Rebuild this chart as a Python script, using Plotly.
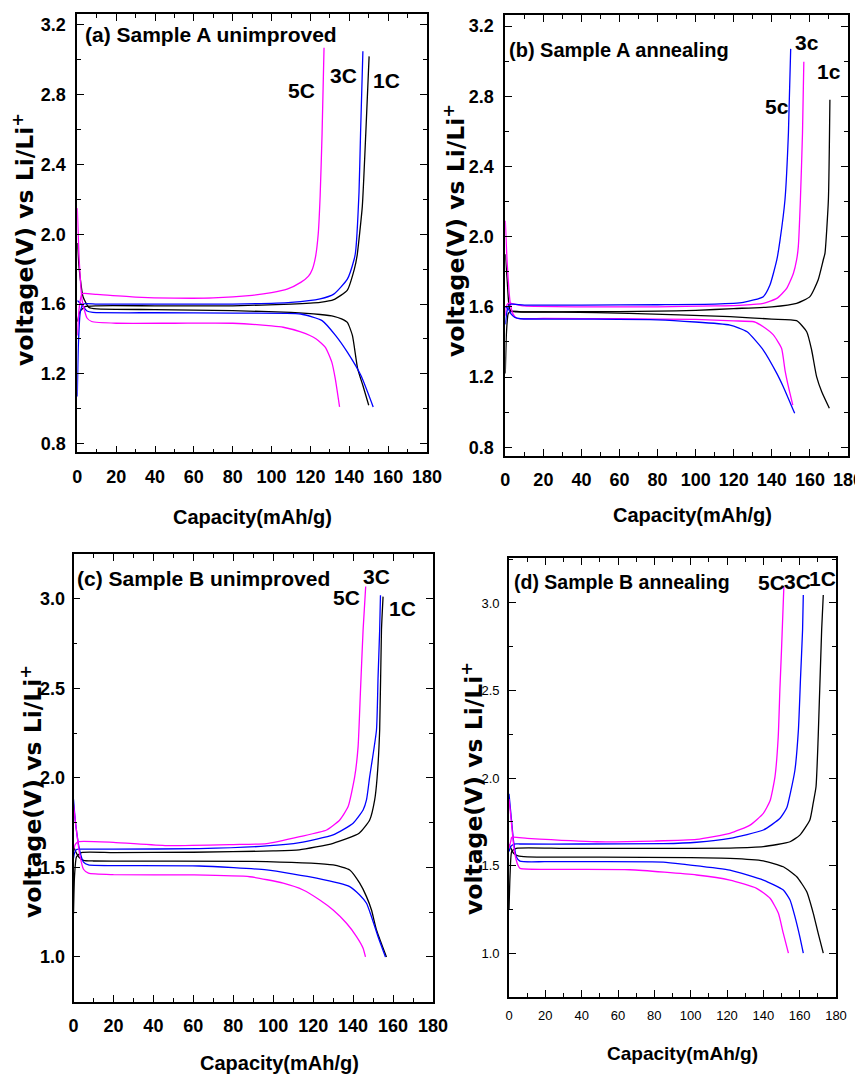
import plotly.graph_objects as go

# ---------------- data (capacity mAh/g, voltage V) ----------------
# (a) Sample A unimproved
a_1C_chg_cap = [0, 1.5, 4, 10, 40, 80, 110, 125, 132, 139, 142.6, 144, 146.7, 148.5, 150.2]
a_1C_chg_v = [1.50, 1.56, 1.585, 1.59, 1.59, 1.59, 1.60, 1.61, 1.625, 1.68, 1.80, 1.876, 2.16, 2.58, 3.02]
a_1C_dis_cap = [0, 1, 3, 6, 10, 40, 80, 110, 125, 132, 136, 139, 141.6, 144.3, 147, 150]
a_1C_dis_v = [1.95, 1.80, 1.64, 1.58, 1.572, 1.568, 1.562, 1.552, 1.54, 1.53, 1.515, 1.495, 1.42, 1.23, 1.133, 1.02]
a_3C_chg_cap = [0, 0.5, 1.5, 3, 10, 40, 80, 110, 125, 132, 139, 142.5, 143.2, 145, 145.8, 147]
a_3C_chg_v = [1.07, 1.35, 1.55, 1.60, 1.60, 1.60, 1.60, 1.61, 1.63, 1.657, 1.743, 1.857, 1.897, 2.24, 2.58, 3.05]
a_3C_dis_cap = [0, 2, 5, 8, 40, 80, 115, 126, 133, 139, 146, 152.3]
a_3C_dis_v = [1.62, 1.60, 1.56, 1.552, 1.55, 1.548, 1.543, 1.505, 1.419, 1.324, 1.19, 1.01]
a_5C_chg_cap = [0, 1, 2.5, 10, 30, 50, 70, 90, 100, 108, 115, 119, 121, 122.6, 124, 125, 126, 127]
a_5C_chg_v = [1.42, 1.58, 1.66, 1.655, 1.64, 1.634, 1.635, 1.65, 1.665, 1.685, 1.724, 1.76, 1.80, 1.869, 2.0, 2.22, 2.58, 3.07]
a_5C_dis_cap = [0, 1, 2.5, 5, 7.4, 20, 50, 80, 100, 106, 115, 123, 127.7, 131, 132.8, 135]
a_5C_dis_v = [2.15, 1.85, 1.62, 1.52, 1.50, 1.49, 1.49, 1.49, 1.475, 1.467, 1.44, 1.40, 1.352, 1.267, 1.171, 1.01]

# (b) Sample A annealing
b_1c_chg_cap = [0, 0.6, 1.5, 3, 8, 40, 80, 100, 120, 140, 153, 160, 164.3, 167, 167.9, 169.7, 170.5]
b_1c_chg_v = [1.22, 1.45, 1.56, 1.575, 1.572, 1.572, 1.575, 1.58, 1.59, 1.60, 1.62, 1.658, 1.753, 1.867, 1.905, 2.21, 2.78]
b_1c_dis_cap = [0, 1, 2, 3, 5, 30, 65, 118, 140, 153, 158.3, 160.9, 163.5, 166.2, 170.2]
b_1c_dis_v = [1.90, 1.75, 1.60, 1.575, 1.572, 1.57, 1.563, 1.544, 1.53, 1.521, 1.458, 1.354, 1.202, 1.116, 1.022]
b_3c_chg_cap = [0, 0.5, 1.5, 3, 10, 40, 80, 110, 125, 135.5, 142.6, 147.8, 151.3, 153, 153.9, 155, 156.1, 156.8]
b_3c_chg_v = [1.55, 1.60, 1.62, 1.62, 1.605, 1.60, 1.60, 1.605, 1.61, 1.62, 1.648, 1.705, 1.79, 1.867, 1.943, 2.21, 2.59, 2.997]
b_3c_dis_cap = [0, 1, 2.5, 4, 6, 20, 60, 100, 120, 130.6, 135.5, 140.8, 145.1, 146.9, 148.7, 151]
b_3c_dis_v = [2.09, 1.85, 1.63, 1.56, 1.535, 1.534, 1.532, 1.528, 1.52, 1.515, 1.487, 1.44, 1.364, 1.24, 1.145, 1.04]
b_5c_chg_cap = [0, 1, 2, 3, 10, 40, 80, 110, 125, 135.5, 139, 142.6, 144.3, 146.9, 148.7, 149.9]
b_5c_chg_v = [1.50, 1.58, 1.61, 1.615, 1.61, 1.61, 1.612, 1.615, 1.625, 1.658, 1.724, 1.867, 1.98, 2.21, 2.589, 3.07]
b_5c_dis_cap = [0, 1.5, 3, 5, 8, 40, 80, 118, 127, 135.5, 142.6, 146, 152]
b_5c_dis_v = [1.60, 1.59, 1.56, 1.54, 1.532, 1.53, 1.526, 1.496, 1.458, 1.354, 1.221, 1.145, 0.993]

# (c) Sample B unimproved
c_1C_chg_cap = [0, 0.5, 1.5, 4, 20, 60, 100, 113, 130, 143, 148.3, 150.8, 152, 153.3, 154.2, 155]
c_1C_chg_v = [1.24, 1.45, 1.56, 1.583, 1.583, 1.585, 1.592, 1.598, 1.635, 1.691, 1.765, 1.877, 2.0, 2.268, 2.827, 3.013]
c_1C_dis_cap = [0, 1, 2.5, 5, 10, 40, 96.7, 130, 138.3, 143.3, 146.7, 149.2, 151.7, 156.7]
c_1C_dis_v = [1.62, 1.59, 1.56, 1.54, 1.536, 1.535, 1.533, 1.514, 1.486, 1.412, 1.337, 1.262, 1.151, 1.0]
c_3C_chg_cap = [0, 0.5, 1.5, 3, 20, 63, 96.7, 113.3, 130, 140, 145, 146.7, 148.3, 151.7, 152.5, 153.3, 153.7]
c_3C_chg_v = [1.55, 1.58, 1.60, 1.602, 1.602, 1.605, 1.62, 1.639, 1.682, 1.747, 1.821, 1.877, 2.007, 2.268, 2.566, 2.827, 3.02]
c_3C_dis_cap = [0, 1, 3, 5, 7.5, 20, 63, 96.7, 121.7, 138.3, 143.3, 146.7, 149.2, 152.5, 156.2]
c_3C_dis_v = [1.88, 1.75, 1.60, 1.53, 1.514, 1.51, 1.508, 1.486, 1.44, 1.393, 1.346, 1.3, 1.225, 1.113, 1.0]
c_5C_chg_cap = [0, 1, 2.5, 20, 46.7, 80, 96.7, 113.3, 126.7, 133.3, 137.5, 140.8, 142.5, 143.7, 145, 146.3]
c_5C_chg_v = [1.60, 1.63, 1.644, 1.64, 1.622, 1.628, 1.633, 1.672, 1.709, 1.765, 1.84, 2.007, 2.175, 2.49, 2.827, 3.069]
c_5C_dis_cap = [0, 1, 3, 5, 7.5, 20, 60, 88.3, 105, 115, 123.3, 130, 136.7, 141.7, 145, 146.2]
c_5C_dis_v = [1.85, 1.75, 1.58, 1.49, 1.468, 1.46, 1.458, 1.448, 1.412, 1.374, 1.318, 1.262, 1.188, 1.114, 1.049, 1.0]

# (d) Sample B annealing
d_1C_chg_cap = [0, 0.6, 1.5, 4, 30, 80, 121.6, 140, 154.7, 160.1, 165.6, 167.5, 169, 170.2, 172.1, 173]
d_1C_chg_v = [1.246, 1.45, 1.58, 1.598, 1.598, 1.598, 1.60, 1.608, 1.636, 1.674, 1.76, 1.86, 1.95, 2.236, 2.846, 3.046]
d_1C_dis_cap = [0, 1, 2.5, 5, 10, 50, 100, 121.6, 140, 151, 158.4, 163.9, 167.5, 170.2, 173]
d_1C_dis_v = [1.62, 1.60, 1.57, 1.555, 1.55, 1.548, 1.545, 1.541, 1.527, 1.493, 1.436, 1.35, 1.227, 1.112, 1.0]
d_3C_chg_cap = [0, 1, 3, 6, 40, 84.9, 103.3, 121.6, 140, 149.2, 152.9, 155, 157.4, 159.3, 160.5, 161.6, 162]
d_3C_chg_v = [1.58, 1.61, 1.623, 1.623, 1.623, 1.625, 1.633, 1.655, 1.703, 1.77, 1.83, 1.92, 2.046, 2.274, 2.579, 2.846, 3.046]
d_3C_dis_cap = [0, 1, 2.5, 4, 6, 20, 84.9, 97.7, 121.6, 140, 151, 154.7, 157.4, 160.1, 162]
d_3C_dis_v = [1.91, 1.80, 1.64, 1.55, 1.525, 1.522, 1.52, 1.505, 1.474, 1.417, 1.36, 1.303, 1.208, 1.093, 1.0]
d_5C_chg_cap = [0, 1, 1.5, 10, 48.3, 80, 103.3, 121.6, 132.7, 140, 143.7, 146.4, 148.2, 149.1, 150, 151.3]
d_5C_chg_v = [1.60, 1.64, 1.661, 1.655, 1.636, 1.64, 1.649, 1.684, 1.731, 1.798, 1.87, 2.007, 2.236, 2.503, 2.731, 3.093]
d_5C_dis_cap = [0, 1, 3, 5, 6.1, 20, 66.6, 103.3, 121.6, 136.3, 143.7, 148.3, 151, 153.8]
d_5C_dis_v = [1.88, 1.78, 1.58, 1.50, 1.484, 1.478, 1.476, 1.446, 1.417, 1.37, 1.313, 1.227, 1.112, 1.0]

panel_titles = ["(a) Sample A unimproved", "(b) Sample A annealing",
                "(c) Sample B unimproved", "(d) Sample B annealing"]
rate_labels_a = ["5C", "3C", "1C"]
rate_labels_b = ["5c", "3c", "1c"]
rate_labels_c = ["5C", "3C", "1C"]
rate_labels_d = ["5C", "3C", "1C"]
x_title = "Capacity(mAh/g)"
y_title = "voltage(V) vs Li/Li<sup>+</sup>"

# ---------------- layout helpers ----------------
W, H = 863, 1076
OFF = 8  # page body margin offset
BLACK, BLUE, MAG = "#000000", "#0000FF", "#FF00FF"
NARROW = "Liberation Sans, Arial, sans-serif"
WIDE = "DejaVu Sans, Verdana, Arial, sans-serif"


def fx(p):
    return (p - OFF) / W


def fy(p):
    return 1 - (p - OFF) / H


fig = go.Figure()

panels = [
    dict(n="", xd=(77.3, 427), yd=(14, 452.3), yr=(0.75, 3.263), dt=0.4, t0=0.8,
         tf=dict(size=18, weight="bold"), xso=7, yso=6,
         series=[(a_1C_chg_cap, a_1C_chg_v, BLACK), (a_1C_dis_cap, a_1C_dis_v, BLACK),
                 (a_3C_chg_cap, a_3C_chg_v, BLUE), (a_3C_dis_cap, a_3C_dis_v, BLUE),
                 (a_5C_chg_cap, a_5C_chg_v, MAG), (a_5C_dis_cap, a_5C_dis_v, MAG)],
         title=(panel_titles[0], 83, 35, 21), ytitle=(23, 240), xtitle=(252, 517, 20),
         labels=list(zip(rate_labels_a, [(301, 91), (343, 75), (386, 80)]))),
    dict(n="2", xd=(505.3, 848), yd=(15, 456), yr=(0.75, 3.263), dt=0.4, t0=0.8,
         tf=dict(size=18, weight="bold"), xso=7, yso=6,
         series=[(b_1c_chg_cap, b_1c_chg_v, BLACK), (b_1c_dis_cap, b_1c_dis_v, BLACK),
                 (b_3c_chg_cap, b_3c_chg_v, MAG), (b_3c_dis_cap, b_3c_dis_v, MAG),
                 (b_5c_chg_cap, b_5c_chg_v, BLUE), (b_5c_dis_cap, b_5c_dis_v, BLUE)],
         title=(panel_titles[1], 507, 50, 20), ytitle=(454, 231), xtitle=(692, 515, 20),
         labels=list(zip(rate_labels_b, [(777, 107), (807, 42), (829, 72)]))),
    dict(n="3", xd=(73.5, 433), yd=(554, 1001.7), yr=(0.75, 3.251), dt=0.5, t0=1.0,
         tf=dict(size=18, weight="bold"), xso=7, yso=3,
         series=[(c_1C_chg_cap, c_1C_chg_v, BLACK), (c_1C_dis_cap, c_1C_dis_v, BLACK),
                 (c_3C_chg_cap, c_3C_chg_v, BLUE), (c_3C_dis_cap, c_3C_dis_v, BLUE),
                 (c_5C_chg_cap, c_5C_chg_v, MAG), (c_5C_dis_cap, c_5C_dis_v, MAG)],
         title=(panel_titles[2], 75, 578, 21), ytitle=(31, 792), xtitle=(279, 1063, 20),
         labels=list(zip(rate_labels_c, [(346, 597), (376, 576), (402, 608)]))),
    dict(n="4", xd=(509, 836), yd=(558, 997), yr=(0.749, 3.257), dt=0.5, t0=1.0,
         tf=dict(size=13), xso=6, yso=5,
         series=[(d_1C_chg_cap, d_1C_chg_v, BLACK), (d_1C_dis_cap, d_1C_dis_v, BLACK),
                 (d_3C_chg_cap, d_3C_chg_v, BLUE), (d_3C_dis_cap, d_3C_dis_v, BLUE),
                 (d_5C_chg_cap, d_5C_chg_v, MAG), (d_5C_dis_cap, d_5C_dis_v, MAG)],
         title=(panel_titles[3], 512, 582, 19.5), ytitle=(472, 789), xtitle=(682, 1053, 19),
         labels=list(zip(rate_labels_d, [(771, 582), (797, 581), (822, 578)]))),
]

annotations = []
for p in panels:
    n = p["n"]
    for cx, cy, col in p["series"]:
        fig.add_trace(go.Scatter(x=cx, y=cy, mode="lines", xaxis="x" + n, yaxis="y" + n,
                                 line=dict(color=col, width=1.3, shape="spline", smoothing=0.5),
                                 showlegend=False, hoverinfo="skip"))
    tfont = dict(family=NARROW, color="black", **p["tf"])
    common = dict(showline=True, linecolor="black", linewidth=1.6, mirror="ticks",
                  ticks="inside", ticklen=7, tickwidth=1.2, tickcolor="black",
                  showgrid=False, zeroline=False, tickfont=tfont, tickangle=0,
                  automargin=False,
                  minor=dict(ticks="inside", ticklen=4, tickwidth=1, tickcolor="black"))
    fig.layout["xaxis" + n] = dict(domain=[fx(p["xd"][0]), fx(p["xd"][1])], range=[0, 180],
                                   tick0=0, dtick=20, anchor="y" + n, ticklabelstandoff=p["xso"],
                                   minor_dtick=10, **common)
    fig.layout["yaxis" + n] = dict(domain=[fy(p["yd"][1]), fy(p["yd"][0])], range=list(p["yr"]),
                                   tick0=p["t0"], dtick=p["dt"], anchor="x" + n, tickformat=".1f",
                                   ticklabelstandoff=p["yso"],
                                   minor_dtick=p["dt"] / 2, **common)
    t, tx, ty, ts = p["title"]
    annotations.append(dict(text=t, x=fx(tx), y=fy(ty), xref="paper", yref="paper",
                            xanchor="left", yanchor="middle", showarrow=False,
                            font=dict(family=NARROW, size=ts, color="black", weight="bold")))
    yx, yy = p["ytitle"]
    annotations.append(dict(text=y_title, x=fx(yx), y=fy(yy), xref="paper", yref="paper",
                            xanchor="center", yanchor="middle", textangle=-90, showarrow=False,
                            font=dict(family=WIDE, size=23.5, color="black", weight="bold")))
    xx, xy, xs = p["xtitle"]
    annotations.append(dict(text=x_title, x=fx(xx), y=fy(xy), xref="paper", yref="paper",
                            xanchor="center", yanchor="middle", showarrow=False,
                            font=dict(family=NARROW, size=xs, color="black", weight="bold")))
    for lab, (lx, ly) in p["labels"]:
        annotations.append(dict(text=lab, x=fx(lx), y=fy(ly), xref="paper", yref="paper",
                                xanchor="center", yanchor="middle", showarrow=False,
                                font=dict(family=NARROW, size=21, color="black", weight="bold")))

fig.update_layout(width=W, height=H, margin=dict(l=0, r=0, t=0, b=0),
                  paper_bgcolor="white", plot_bgcolor="white",
                  annotations=annotations, showlegend=False)

fig.write_html("out.html")
